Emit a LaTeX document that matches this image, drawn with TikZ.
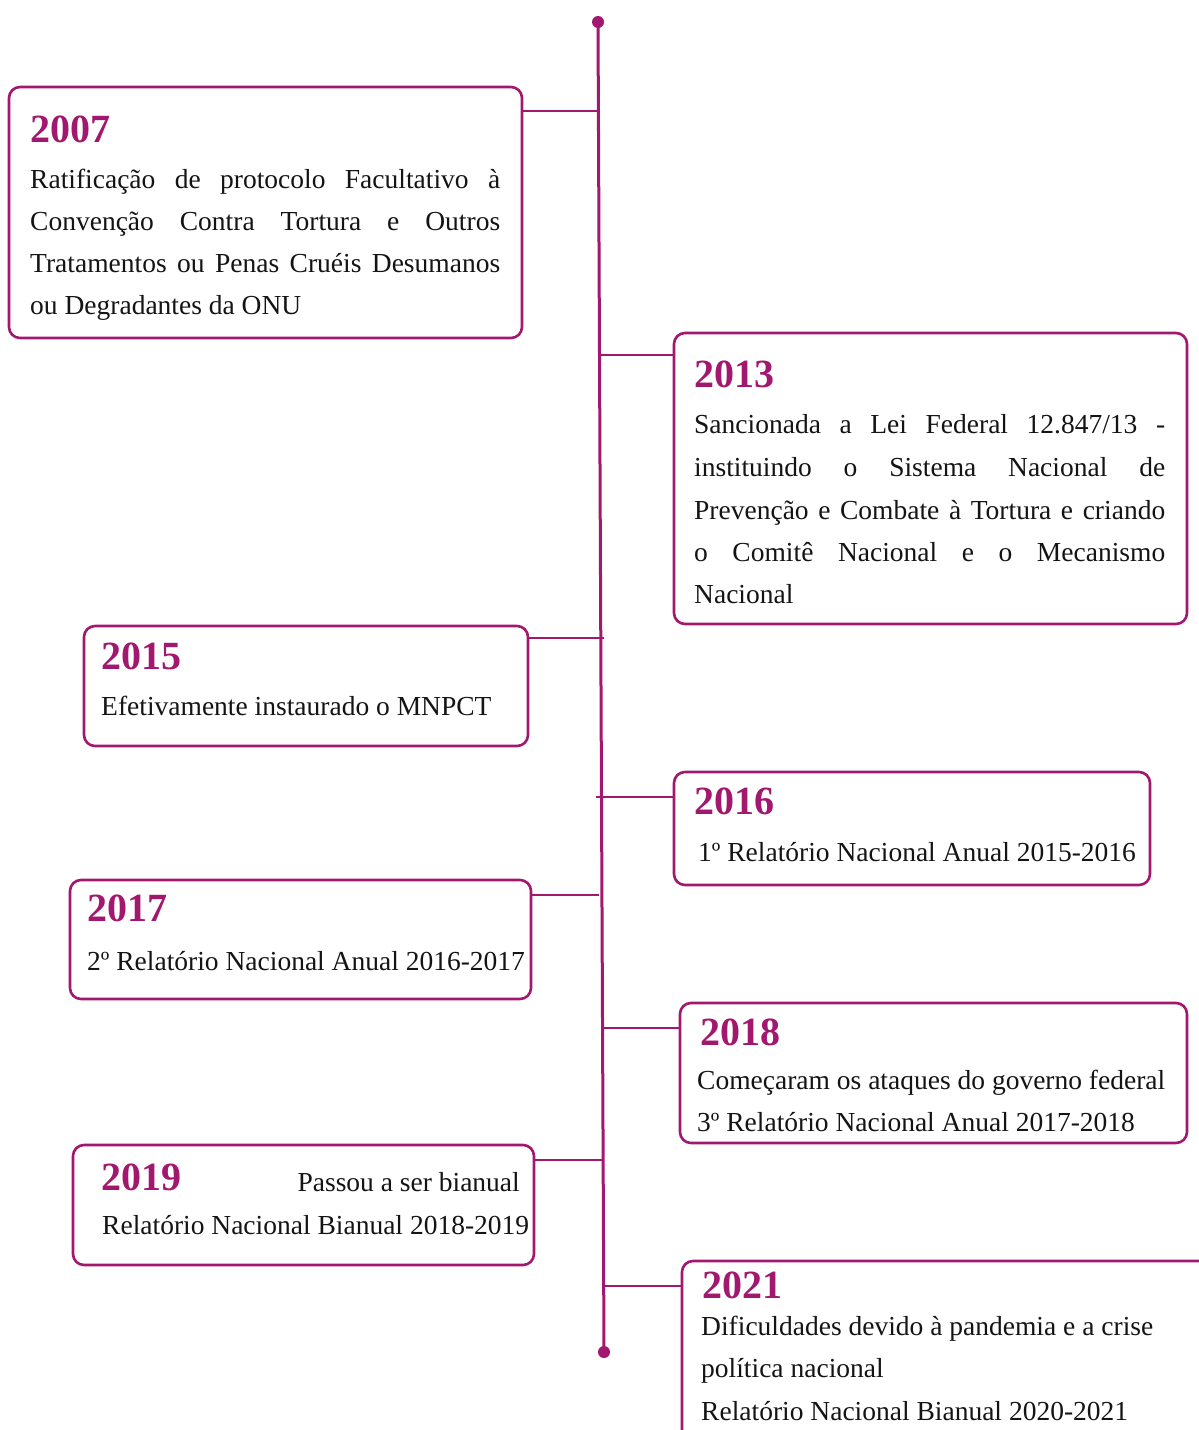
\documentclass[tikz,border=0pt]{standalone}
\usepackage{fontspec}
\setmainfont{Liberation Serif}
\definecolor{mag}{HTML}{A3186F}
\definecolor{ink}{HTML}{141414}
\newcommand{\jl}[2]{\makebox[#1pt][s]{#2}}
\begin{document}
\begin{tikzpicture}[x=1pt,y=-1pt,
  evbox/.style={draw=mag, line width=2.6pt, rounded corners=11pt, inner sep=0pt, fill=white},
  yr/.style={anchor=base west, inner sep=0pt, text=mag, font=\fontsize{40}{40}\selectfont\bfseries},
  bd/.style={anchor=base west, inner sep=0pt, text=ink, font=\fontsize{27.5}{27.5}\selectfont},
  link/.style={draw=mag, line width=1.6pt},
  tl/.style={draw=mag, line width=3pt},
  dotn/.style={circle, fill=mag, inner sep=0pt, minimum size=12pt}
  ]
\useasboundingbox (0,0) rectangle (1199,1430);
\clip (0,0) rectangle (1199,1430);
\fill[white] (0,0) rectangle (1199,1430);

% timeline
\node[dotn] (top) at (598,22) {};
\node[dotn] (bot) at (604,1352) {};
\draw[tl] (top.center) -- (bot.center);

% boxes
\node[evbox, minimum width=513pt, minimum height=251pt] (b07) at (265.5,212.5) {};
\node[evbox, minimum width=513pt, minimum height=291pt] (b13) at (930.5,478.5) {};
\node[evbox, minimum width=444pt, minimum height=120pt] (b15) at (306,686) {};
\node[evbox, minimum width=476pt, minimum height=113pt] (b16) at (912,828.5) {};
\node[evbox, minimum width=461pt, minimum height=119pt] (b17) at (300.5,939.5) {};
\node[evbox, minimum width=507pt, minimum height=140pt] (b18) at (933.5,1073) {};
\node[evbox, minimum width=461pt, minimum height=120pt] (b19) at (303.5,1205) {};
\node[evbox, minimum width=560pt, minimum height=220pt] (b21) at (962,1371) {};

% junction points on the timeline
\coordinate (j07) at (598.4,111);
\coordinate (j13) at (599.5,355);
\coordinate (j15) at (604,638);
\coordinate (j16) at (596,797);
\coordinate (j17) at (598.5,895);
\coordinate (j18) at (602.5,1028);
\coordinate (j19) at (603.1,1160);
\coordinate (j21) at (603.7,1286);

\draw[link] (b07.east |- j07) -- (j07);
\draw[link] (b13.west |- j13) -- (j13);
\draw[link] (b15.east |- j15) -- (j15);
\draw[link] (b16.west |- j16) -- (j16);
\draw[link] (b17.east |- j17) -- (j17);
\draw[link] (b18.west |- j18) -- (j18);
\draw[link] (b19.east |- j19) -- (j19);
\draw[link] (b21.west |- j21) -- (j21);

% 2007
\node[yr] (y07) at (30,142) {2007};
\node[bd] (t07a) at (30,188) {\jl{470}{Ratificação de protocolo Facultativo à}};
\node[bd] (t07b) at (30,230) {\jl{470}{Convenção Contra Tortura e Outros}};
\node[bd] (t07c) at (30,272) {\jl{470}{Tratamentos ou Penas Cruéis Desumanos}};
\node[bd] (t07d) at (30,314) {ou Degradantes da ONU};

% 2013
\node[yr] (y13) at (694,387) {2013};
\node[bd] (t13a) at (694,433) {\jl{471}{Sancionada a Lei Federal 12.847/13 -}};
\node[bd] (t13b) at (694,476) {\jl{471}{instituindo o Sistema Nacional de}};
\node[bd] (t13c) at (694,519) {\jl{471}{Prevenção e Combate à Tortura e criando}};
\node[bd] (t13d) at (694,561) {\jl{471}{o Comitê Nacional e o Mecanismo}};
\node[bd] (t13e) at (694,603) {Nacional};

% 2015
\node[yr] (y15) at (101,669) {2015};
\node[bd] (t15) at (101,715) {Efetivamente instaurado o MNPCT};

% 2016
\node[yr] (y16) at (694,814) {2016};
\node[bd] (t16) at (698,861) {1º Relatório Nacional Anual 2015-2016};

% 2017
\node[yr] (y17) at (87,921) {2017};
\node[bd] (t17) at (87,970) {2º Relatório Nacional Anual 2016-2017};

% 2018
\node[yr] (y18) at (700,1045) {2018};
\node[bd] (t18a) at (697,1089) {Começaram os ataques do governo federal};
\node[bd] (t18b) at (697,1131) {3º Relatório Nacional Anual 2017-2018};

% 2019
\node[yr] (y19) at (101,1190) {2019};
\node[bd, anchor=base east] (t19a) at (520,1191) {Passou a ser bianual};
\node[bd] (t19b) at (102,1234) {Relatório Nacional Bianual 2018-2019};

% 2021
\node[yr] (y21) at (702,1298) {2021};
\node[bd] (t21a) at (701,1335) {Dificuldades devido à pandemia e a crise};
\node[bd] (t21b) at (701,1377) {política nacional};
\node[bd] (t21c) at (701,1420) {Relatório Nacional Bianual 2020-2021};
\end{tikzpicture}
\end{document}
